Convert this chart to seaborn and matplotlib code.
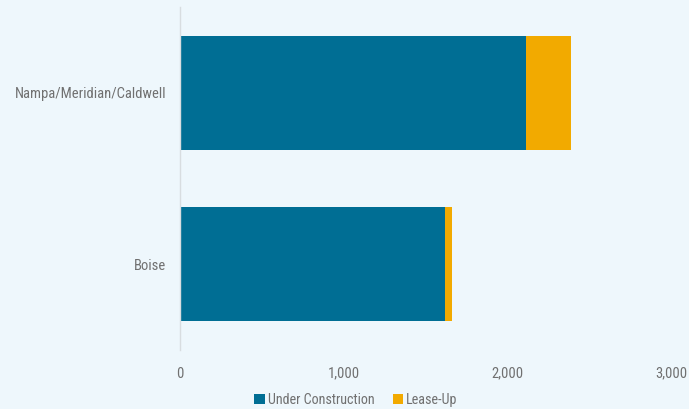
import matplotlib
matplotlib.use("Agg")
import matplotlib.pyplot as plt
from matplotlib.patches import Patch
import seaborn as sns
import pandas as pd

categories = ["Nampa/Meridian/Caldwell", "Boise"]
under_construction = [2112, 1619]
lease_up = [276, 43]
series_names = ["Under Construction", "Lease-Up"]
x_ticks = [0, 1000, 2000, 3000]
x_tick_labels = ["0", "1,000", "2,000", "3,000"]

teal = "#006e94"
gold = "#f2aa00"
bg = "#eef7fc"
txt = "#707070"

sns.set_theme(style="white")
plt.rcParams["font.family"] = ["Roboto Condensed", "DejaVu Sans"]

df = pd.DataFrame({
    "category": categories,
    "uc": under_construction,
    "total": [a + b for a, b in zip(under_construction, lease_up)],
})

fig = plt.figure(figsize=(6.89, 4.09), dpi=100, facecolor=bg)
ax = fig.add_axes([180 / 689, 1 - 350 / 409, (671 - 180) / 689, (350 - 7) / 409])
ax.set_facecolor(bg)

sns.barplot(data=df, x="total", y="category", orient="h", color=gold,
            width=0.665, ax=ax, saturation=1, linewidth=0)
sns.barplot(data=df, x="uc", y="category", orient="h", color=teal,
            width=0.665, ax=ax, saturation=1, linewidth=0)

ax.set_xlim(0, 3000)
ax.set_ylim(1.5, -0.5)
ax.set_xticks(x_ticks)
ax.set_xticklabels(x_tick_labels)
ax.set_xlabel("")
ax.set_ylabel("")
for s in ["top", "right", "bottom"]:
    ax.spines[s].set_visible(False)
ax.spines["left"].set_color("#d8dde0")
ax.spines["left"].set_linewidth(1)
ax.tick_params(axis="both", length=0, labelsize=10.5, labelcolor=txt)
ax.tick_params(axis="x", pad=12)
ax.tick_params(axis="y", pad=10)

handles = [Patch(facecolor=teal, edgecolor="none"), Patch(facecolor=gold, edgecolor="none")]
fig.legend(handles, series_names, loc="center", bbox_to_anchor=(356 / 689, 1 - 400 / 409),
           ncol=2, frameon=False, fontsize=10.2, labelcolor=txt,
           handlelength=0.75, handleheight=0.75, handletextpad=0.2, columnspacing=1.3)

fig.savefig("out.png", dpi=100, facecolor=bg)
